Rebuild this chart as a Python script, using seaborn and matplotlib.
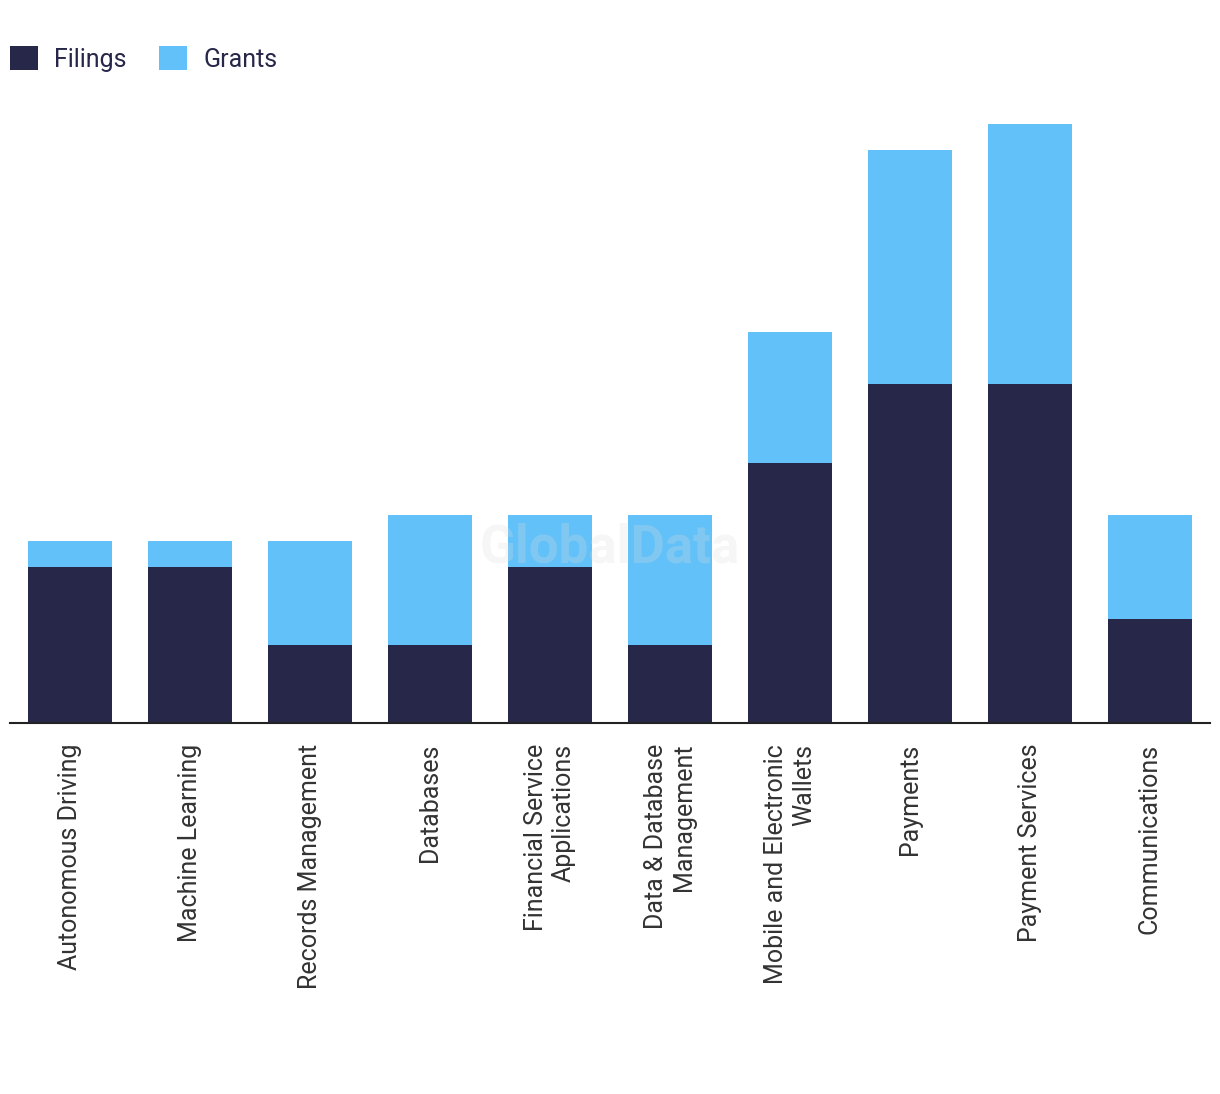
import matplotlib
matplotlib.use("Agg")
import matplotlib.pyplot as plt
import seaborn as sns
import numpy as np
import pandas as pd
from matplotlib.patches import Patch

categories = ["Autonomous Driving", "Machine Learning", "Records Management", "Databases",
              "Financial Service\nApplications", "Data & Database\nManagement",
              "Mobile and Electronic\nWallets", "Payments", "Payment Services", "Communications"]
filings = [6, 6, 3, 3, 6, 3, 10, 13, 13, 4]
grants = [1, 1, 4, 5, 2, 5, 5, 9, 10, 4]

dark = "#27274a"
light = "#62c1f8"

sns.set_theme(style="white")
plt.rcParams['font.family'] = ['Roboto', 'DejaVu Sans']

df = pd.DataFrame({"category": categories, "Filings": filings, "Grants": grants})
df["Total"] = df["Filings"] + df["Grants"]

fig = plt.figure(figsize=(12.2, 10.94), dpi=100)
ax = fig.add_axes([10/1220, (1094-723)/1094, 1200/1220, (723-98)/1094])

sns.barplot(data=df, x="category", y="Total", color=light, width=0.7, ax=ax,
            saturation=1, linewidth=0, edgecolor="none")
sns.barplot(data=df, x="category", y="Filings", color=dark, width=0.7, ax=ax,
            saturation=1, linewidth=0, edgecolor="none")

ax.set_xlim(-0.5, 9.5)
ax.set_ylim(0, 24)
ax.set_xlabel("")
ax.set_ylabel("")
ax.set_yticks([])
for s in ["top", "right", "left"]:
    ax.spines[s].set_visible(False)
ax.spines["bottom"].set_color("#222222")
ax.spines["bottom"].set_linewidth(1.5)
ax.set_xticks(range(len(categories)))
ax.set_xticklabels(categories, rotation=90, ha="center", va="top",
                   multialignment="right", fontsize=18, color="#333333")
ax.tick_params(axis="x", length=0, pad=15)

fig.text(610/1220, 1 - 548/1094, "GlobalData", fontsize=38, fontweight="bold",
         color="#dddddd", alpha=0.25, ha="center", va="center")

handles = [Patch(facecolor=dark, edgecolor="none", label="Filings"),
           Patch(facecolor=light, edgecolor="none", label="Grants")]
fig.legend(handles=handles, loc="upper left", bbox_to_anchor=(0.0082, 0.958), ncol=2,
           frameon=False, fontsize=18, handlelength=1.12, handleheight=1.12,
           handletextpad=0.65, columnspacing=1.3, labelcolor="#27274a",
           borderaxespad=0.0, borderpad=0.0)

fig.savefig("out.png", dpi=100, facecolor="white")
